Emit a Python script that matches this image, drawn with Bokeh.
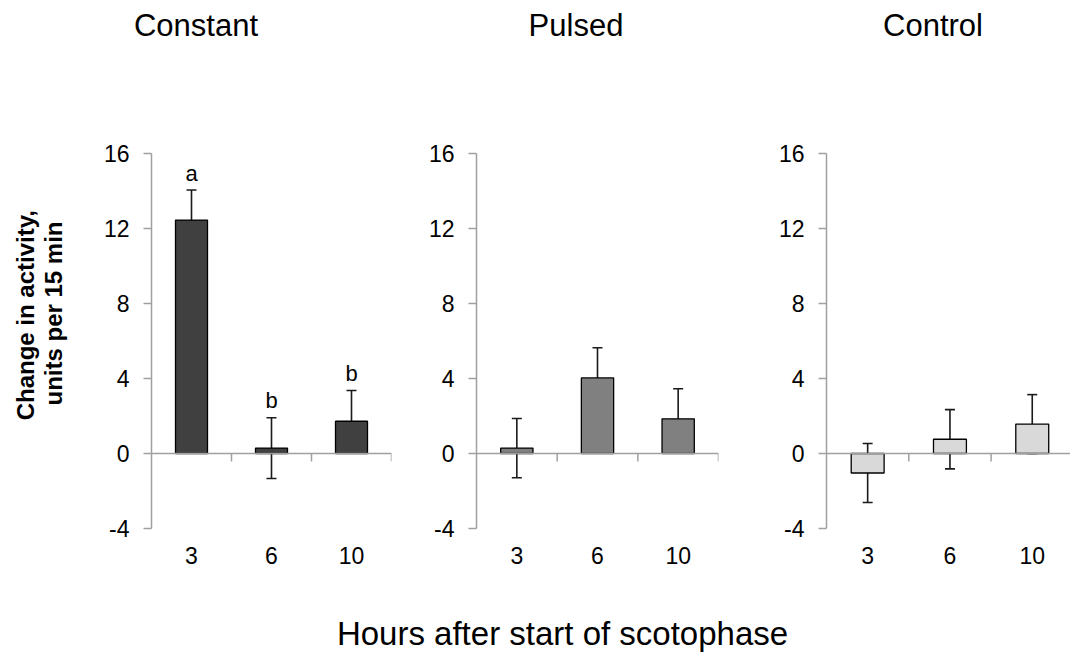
import math
from bokeh.plotting import figure
from bokeh.models import Range1d, FixedTicker, Span, Whisker, TeeHead, ColumnDataSource
from bokeh.layouts import row, column
from bokeh.embed import file_html
from bokeh.resources import INLINE
from bokeh.core.properties import value

# ---------------- data ----------------
hours = ["3", "6", "10"]
panel_titles = ["Constant", "Pulsed", "Control"]
constant_mean = [12.45, 0.29, 1.72]
constant_sem = [1.60, 1.62, 1.64]
constant_letters = ["a", "b", "b"]
pulsed_mean = [0.29, 4.03, 1.85]
pulsed_sem = [1.58, 1.61, 1.60]
control_mean = [-1.04, 0.76, 1.57]
control_sem = [1.57, 1.58, 1.57]
y_ticks = [-4, 0, 4, 8, 12, 16]
y_axis_title_lines = ["Change in activity,", "units per 15 min"]
x_axis_title = "Hours after start of scotophase"

# ---------------- style / layout ----------------
FONT = "Liberation Sans"
AXIS = "#a0a0a0"
bar_colors = ["#404040", "#808080", "#d9d9d9"]
Y_MIN, Y_MAX = -4, 16
TOP_H, MAIN_H, BOT_H = 140, 450, 65
B_TOP, B_BOT = 13, 62
FRAME_H = MAIN_H - B_TOP - B_BOT
TICK_PX = 8


def make_panel(mean, sem, color, letters, width, bl, br, x_end):
    p = figure(width=width, height=MAIN_H, x_range=Range1d(0, x_end),
               y_range=Range1d(Y_MIN, Y_MAX), output_backend="svg",
               toolbar_location=None, min_border_left=bl, min_border_right=br,
               min_border_top=B_TOP, min_border_bottom=B_BOT)
    p.outline_line_color = None
    p.grid.visible = False
    p.background_fill_color = "white"
    p.border_fill_color = "white"

    xs = [i + 0.5 for i in range(len(hours))]
    data = dict(x=xs, top=mean,
                upper=[m + s for m, s in zip(mean, sem)],
                lower=[m - s for m, s in zip(mean, sem)],
                letter=letters if letters else [""] * len(xs))
    src = ColumnDataSource(data)

    p.vbar(x="x", top="top", bottom=0, width=0.4, fill_color=color,
           line_color="black", line_width=1.3, source=src)

    # category-axis line at zero, with boundary ticks
    p.add_layout(Span(location=0, dimension="width", line_color=AXIS, line_width=1.5))
    tick_len = TICK_PX * (Y_MAX - Y_MIN) / FRAME_H
    bounds = [i + 1 for i in range(len(hours))]
    p.segment(x0=bounds, y0=[0] * len(bounds), x1=bounds, y1=[-tick_len] * len(bounds),
              line_color=AXIS, line_width=1.5)

    head = dict(size=10, line_color="#1a1a1a", line_width=1.6)
    p.add_layout(Whisker(source=src, base="x", upper="upper", lower="lower",
                         line_color="#1a1a1a", line_width=1.6,
                         upper_head=TeeHead(**head), lower_head=TeeHead(**head)))

    if letters:
        p.text(x="x", y="upper", text="letter", source=src, y_offset=-17,
               text_align="center", text_baseline="alphabetic",
               text_font=value(FONT), text_font_size="22px", text_color="black")

    ya = p.yaxis[0]
    ya.ticker = FixedTicker(ticks=y_ticks)
    ya.major_label_overrides = {t: str(t) for t in y_ticks}
    ya.axis_line_color = AXIS
    ya.axis_line_width = 1.5
    ya.major_tick_line_color = AXIS
    ya.major_tick_line_width = 1.5
    ya.major_tick_out = TICK_PX
    ya.major_tick_in = 0
    ya.minor_tick_line_color = None
    ya.major_label_standoff = 14
    ya.major_label_text_font = FONT
    ya.major_label_text_font_size = "23px"
    ya.major_label_text_color = "black"

    xa = p.xaxis[0]
    xa.ticker = FixedTicker(ticks=xs)
    xa.major_label_overrides = {x: h for x, h in zip(xs, hours)}
    xa.axis_line_color = None
    xa.major_tick_line_color = None
    xa.major_tick_out = 0
    xa.major_tick_in = 0
    xa.minor_tick_line_color = None
    xa.major_label_standoff = 18
    xa.major_label_text_font = FONT
    xa.major_label_text_font_size = "23px"
    xa.major_label_text_color = "black"
    return p


def blank(width, height):
    p = figure(width=width, height=height, x_range=Range1d(0, width),
               y_range=Range1d(0, height), output_backend="svg",
               toolbar_location=None, x_axis_location=None, y_axis_location=None,
               min_border=0)
    p.outline_line_color = None
    p.grid.visible = False
    return p


p1 = make_panel(constant_mean, constant_sem, bar_colors[0], constant_letters, 313, 63, 10, 3)
p2 = make_panel(pulsed_mean, pulsed_sem, bar_colors[1], None, 327, 75, 10, 3)
p3 = make_panel(control_mean, control_sem, bar_colors[2], None, 342, 98, 0, 244 / 82.3)

# titles strip (x in pixels from the left of the page)
top = blank(1070, TOP_H)
top.text(x=[195.5, 575.5, 932.5], y=[115, 115, 115], text=panel_titles,
         text_align="center", text_baseline="alphabetic",
         text_font=value(FONT), text_font_size="31px", text_color="black")

# y-axis title strip
ylab = blank(88, MAIN_H)
ylab.text(x=[25, 53], y=[256, 258], text=y_axis_title_lines, angle=math.pi / 2,
          text_align="center", text_baseline="middle",
          text_font=value(FONT), text_font_size="24px", text_font_style="bold",
          text_color="black")

# x-axis title strip
bottom = blank(1070, BOT_H)
bottom.text(x=[562], y=[22], text=[x_axis_title], text_align="center",
            text_baseline="alphabetic", text_font=value(FONT),
            text_font_size="33px", text_color="black")

layout = column(top, row(ylab, p1, p2, p3), bottom)
open("out.html", "w").write(file_html(layout, INLINE))
